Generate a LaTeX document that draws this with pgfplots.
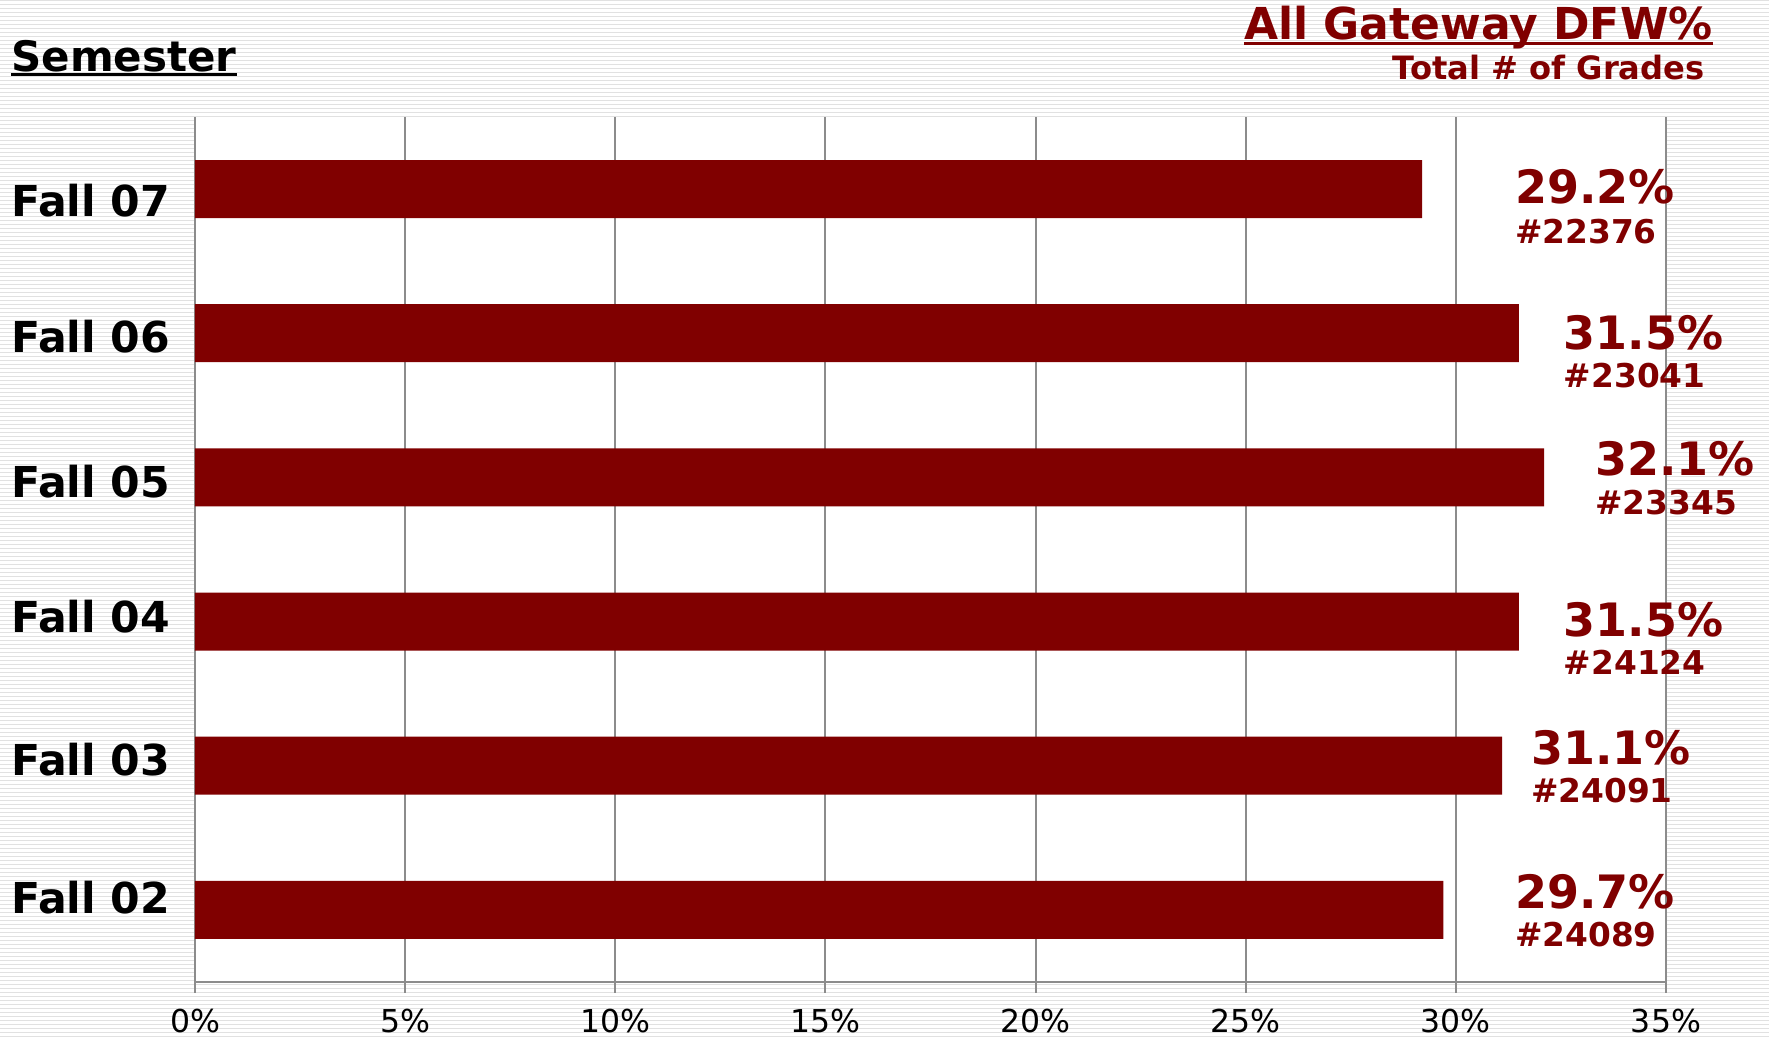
\documentclass[border=0pt]{standalone}
\usepackage{pgfplots}
\pgfplotsset{compat=1.18}
\usepackage{fontspec}
\setmainfont{DejaVu Sans}
\definecolor{maroon}{RGB}{128,0,0}
\definecolor{gridgray}{RGB}{140,140,140}
\definecolor{stripe}{RGB}{225,225,225}

\begin{document}
\begin{tikzpicture}
\useasboundingbox (0,0) rectangle (884.5pt,518.5pt);
\fill[white] (0,0) rectangle (884.5pt,518.5pt);
\foreach \i in {0,...,259} {\fill[stripe] (0,{\i*2pt}) rectangle (884.5pt,{\i*2pt+0.5pt});}
\begin{axis}[
 at={(97.5pt,27.5pt)}, anchor=south west,
 scale only axis, width=735.5pt, height=432.5pt,
 xbar, bar width=29pt,
 xmin=0, xmax=35, ymin=-0.5, ymax=5.5,
 xtick={0,5,...,35},
 /pgf/number format/assume math mode=true,
 xticklabel={\pgfmathprintnumber{\tick}\%},
 ytick={0.087,1.041,2.035,2.973,3.975,4.921},
 yticklabels={Fall 02, Fall 03, Fall 04, Fall 05, Fall 06, Fall 07},
 axis background/.style={fill=white},
 xmajorgrids, grid style={gridgray, line width=1pt},
 axis x line*=bottom, axis y line*=left,
 axis line style={gridgray, line width=1pt},
 x tick style={gridgray, line width=1pt},
 tick align=outside, major tick length=5.5pt,
 y tick style={draw=none},
 xticklabel style={font=\fontsize{15.75}{18}\selectfont, text=black, yshift=-4.5pt},
 yticklabel style={font=\fontsize{21.3}{24}\selectfont\bfseries, anchor=west, inner sep=0pt, xshift=-86.5pt},
 clip=false,
]
\addplot[fill=maroon, draw=none] coordinates {(29.7,0) (31.1,1) (31.5,2) (32.1,3) (31.5,4) (29.2,5)};

\tikzset{pct/.style={anchor=west, inner sep=0pt, text=maroon, font=\fontsize{23}{27}\selectfont\bfseries},
         cnt/.style={anchor=west, inner sep=0pt, text=maroon, font=\fontsize{16.4}{19}\selectfont\bfseries}}
\node[pct] at (axis cs:31.40,5.015) {29.2\%};
\node[cnt] at (axis cs:31.40,4.702) {\#22376};
\node[pct] at (axis cs:32.56,4.006) {31.5\%};
\node[cnt] at (axis cs:32.56,3.709) {\#23041};
\node[pct] at (axis cs:33.31,3.130) {32.1\%};
\node[cnt] at (axis cs:33.31,2.825) {\#23345};
\node[pct] at (axis cs:32.56,2.011) {31.5\%};
\node[cnt] at (axis cs:32.56,1.714) {\#24124};
\node[pct] at (axis cs:31.78,1.127) {31.1\%};
\node[cnt] at (axis cs:31.78,0.830) {\#24091};
\node[pct] at (axis cs:31.40,0.126) {29.7\%};
\node[cnt] at (axis cs:31.40,-0.171) {\#24089};
\end{axis}

\node[anchor=base west, inner sep=0pt, font=\fontsize{21}{25}\selectfont\bfseries] (s) at (5.5pt,482.5pt) {Semester};
\draw[line width=1.5pt] ([yshift=-1.5pt]s.base west) -- ([yshift=-1.5pt]s.base east);
\node[anchor=base east, inner sep=0pt, text=maroon, font=\fontsize{22}{26}\selectfont\bfseries] (t) at (856.5pt,498.7pt) {All Gateway DFW\%};
\draw[maroon, line width=1.5pt] ([yshift=-2.2pt]t.base west) -- ([yshift=-2.2pt]t.base east);
\node[anchor=base east, inner sep=0pt, text=maroon, font=\fontsize{16.07}{19}\selectfont\bfseries] at (852.5pt,478.5pt) {Total \# of Grades};
\end{tikzpicture}
\end{document}
